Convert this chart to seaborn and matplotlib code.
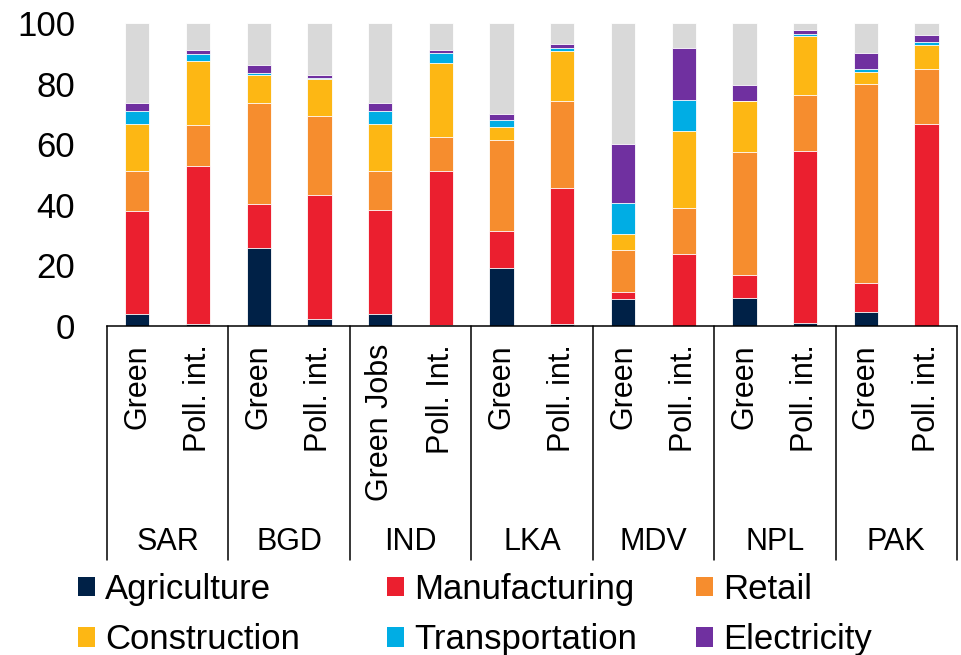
import numpy as np
import pandas as pd
import matplotlib
matplotlib.use("Agg")
import matplotlib.pyplot as plt
import matplotlib.transforms as mtransforms
from matplotlib.patches import Patch
import seaborn as sns

# data (% of jobs by sector)
countries = ["SAR", "BGD", "IND", "LKA", "MDV", "NPL", "PAK"]
bar_labels = ["Green", "Poll. int.", "Green", "Poll. int.", "Green Jobs", "Poll. Int.",
              "Green", "Poll. int.", "Green", "Poll. int.", "Green", "Poll. int.",
              "Green", "Poll. int."]

agriculture = [4.1, 0.6, 25.7, 2.4, 4.0, 0.4, 19.3, 0.7, 8.9, 0.0, 9.1, 0.9, 4.5, 0.0]
manufacturing = [34.0, 52.2, 14.4, 40.9, 34.3, 50.8, 11.9, 44.7, 2.4, 23.9, 7.8, 57.0, 9.8, 66.6]
retail = [13.2, 13.4, 33.4, 25.9, 12.7, 11.1, 30.3, 28.7, 13.7, 15.2, 40.4, 18.2, 65.7, 18.1]
construction = [15.3, 21.2, 9.5, 12.2, 15.5, 24.6, 4.2, 16.6, 5.3, 25.4, 16.9, 19.7, 3.9, 7.9]
transportation = [4.4, 2.5, 0.6, 0.5, 4.3, 3.1, 2.3, 1.0, 10.2, 10.1, 0.2, 0.6, 0.8, 1.0]
electricity = [2.7, 1.2, 2.6, 1.0, 2.8, 1.0, 1.9, 1.4, 19.6, 17.0, 5.0, 1.2, 5.5, 2.3]

sectors = ["Agriculture", "Manufacturing", "Retail", "Construction", "Transportation", "Electricity"]
colors = ["#002147", "#EB1F2F", "#F68D2E", "#FDB714", "#00ADE4", "#7030A0"]
other_color = "#D9D9D9"

bar_ids = [f"{c}_{k}" for c in countries for k in ("g", "p")]
df = pd.DataFrame({
    "bar": bar_ids,
    "Agriculture": agriculture,
    "Manufacturing": manufacturing,
    "Retail": retail,
    "Construction": construction,
    "Transportation": transportation,
    "Electricity": electricity,
})
df["Other"] = 100 - df[sectors].sum(axis=1)

# cumulative tops, drawn from the tallest down so each one covers the last
cum = df[sectors + ["Other"]].cumsum(axis=1)
cum["bar"] = df["bar"]

sns.set_style("white")
plt.rcParams["font.family"] = ["Liberation Sans", "DejaVu Sans"]
plt.rcParams["text.color"] = "black"
plt.rcParams["xtick.color"] = "black"
plt.rcParams["ytick.color"] = "black"

fig = plt.figure(figsize=(9.61, 6.55), dpi=100)
ax = fig.add_axes([0.1113, 0.5023, 0.8845, 0.4626])

layers = list(zip(sectors, colors)) + [("Other", other_color)]
for name, col in reversed(layers):
    sns.barplot(data=cum, x="bar", y=name, order=bar_ids, color=col, saturation=1,
                width=0.4, errorbar=None, edgecolor="white", linewidth=0.6, ax=ax)

ax.set_xlim(-0.5, len(bar_ids) - 0.5)
ax.set_ylim(0, 100)
ax.set_yticks(range(0, 101, 20))
ax.set_xlabel("")
ax.set_ylabel("")
ax.tick_params(axis="y", length=0, pad=23, labelsize=25)
ax.set_xticks(range(len(bar_ids)))
ax.set_xticklabels(bar_labels, rotation=90, fontsize=22, va="top", ha="center")
ax.tick_params(axis="x", length=0, pad=13)
for s in ["left", "top", "right"]:
    ax.spines[s].set_visible(False)
ax.spines["bottom"].set_color("black")
ax.spines["bottom"].set_linewidth(1.1)

# two-level category axis: separators and country names
trans = mtransforms.blended_transform_factory(ax.transData, ax.transAxes)
for b in np.arange(-0.5, len(bar_ids), 2):
    ax.plot([b, b], [0, -0.772], transform=trans, clip_on=False, color="black", lw=1.1)
for i, c in enumerate(countries):
    ax.text(2 * i + 0.5, -0.713, c, transform=trans, ha="center", va="center", fontsize=22)

# legend, one block per column so the columns sit on a fixed grid
col_x = [78, 387, 696]
for j in range(3):
    handles = [Patch(facecolor=colors[j], edgecolor="none", label=sectors[j]),
               Patch(facecolor=colors[j + 3], edgecolor="none", label=sectors[j + 3])]
    fig.legend(handles=handles, loc="center left", bbox_to_anchor=(col_x[j] / 961, 40.5 / 655),
               frameon=False, fontsize=25, handlelength=0.5, handleheight=0.5,
               handletextpad=0.29, labelspacing=0.5, borderpad=0, borderaxespad=0)

fig.savefig("out.png", dpi=100)
